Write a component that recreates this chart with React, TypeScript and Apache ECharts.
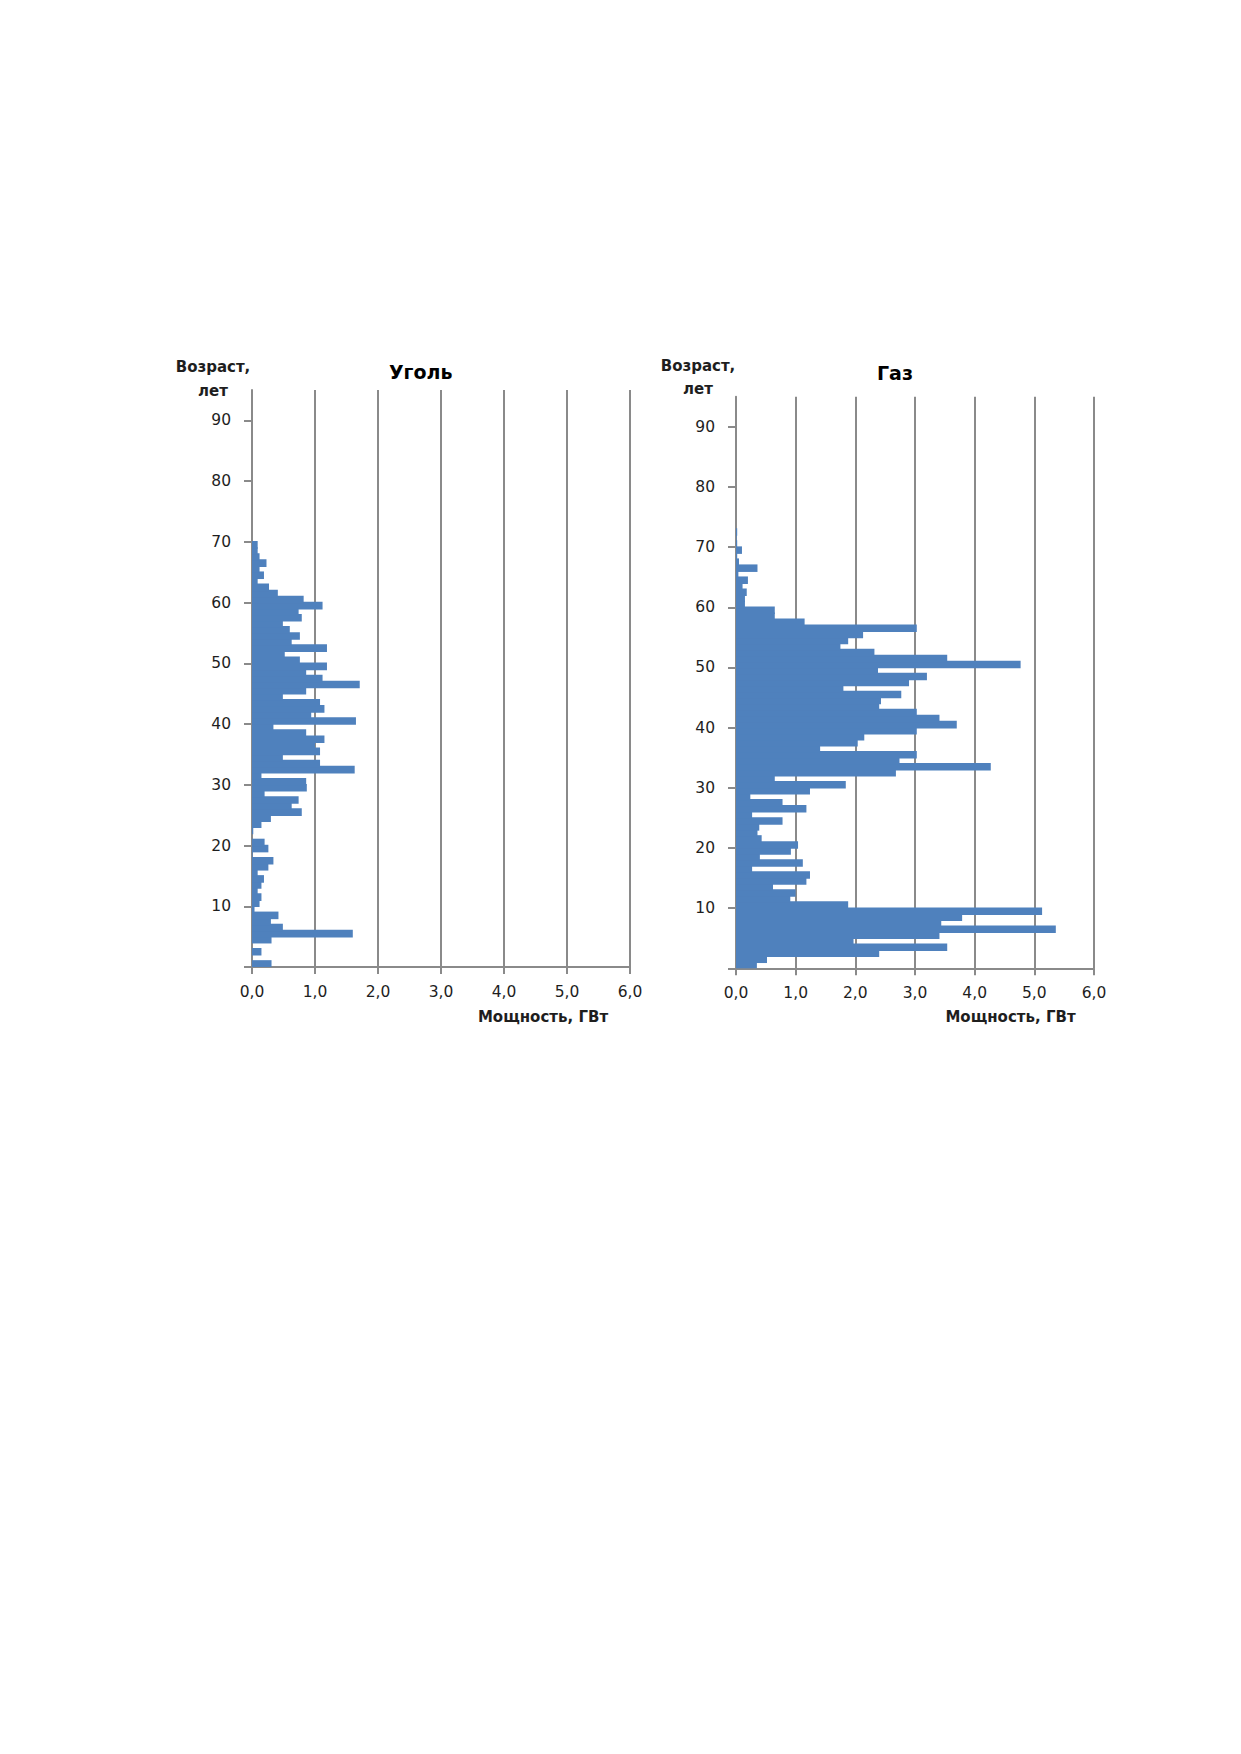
import React, { useEffect, useRef } from "react";
import * as echarts from "echarts";

// Age bands (years), one category per year: band k spans ages k..k+1
const ageCategories: string[] = Array.from({ length: 95 }, (_, i) => String(i));

// Coal capacity by age band (GW), ages 0..69
const coalValues: number[] = [
  0.31, 0, 0.15, 0, 0.31, 1.6, 0.49, 0.3, 0.42, 0.04,
  0.12, 0.15, 0.09, 0.15, 0.19, 0.09, 0.26, 0.34, 0.01, 0.26,
  0.2, 0, 0.02, 0.15, 0.3, 0.79, 0.63, 0.74, 0.2, 0.87,
  0.86, 0.15, 1.63, 1.08, 0.49, 1.08, 1.0, 1.15, 0.86, 0.34,
  1.65, 0.94, 1.15, 1.08, 0.49, 0.86, 1.71, 1.12, 0.86, 1.19,
  0.76, 0.52, 1.19, 0.63, 0.76, 0.6, 0.49, 0.79, 0.74, 1.12,
  0.82, 0.41, 0.27, 0.09, 0.19, 0.12, 0.23, 0.12, 0.09, 0.09,
];

// Gas capacity by age band (GW), ages 0..72
const gasValues: number[] = [
  0.35, 0.52, 2.4, 3.54, 1.97, 3.41, 5.36, 3.44, 3.79, 5.13,
  1.88, 0.91, 1.0, 0.62, 1.18, 1.24, 0.27, 1.12, 0.4, 0.92,
  1.04, 0.43, 0.36, 0.39, 0.78, 0.27, 1.18, 0.78, 0.24, 1.24,
  1.84, 0.65, 2.68, 4.27, 2.74, 3.03, 1.41, 2.04, 2.15, 3.03,
  3.7, 3.41, 3.03, 2.4, 2.43, 2.77, 1.8, 2.9, 3.2, 2.38,
  4.77, 3.54, 2.32, 1.75, 1.88, 2.13, 3.03, 1.15, 0.65, 0.65,
  0.15, 0.15, 0.18, 0.11, 0.2, 0.04, 0.36, 0.05, 0.02, 0.1,
  0.02, 0.01, 0.02,
];

const ageTickValues: number[] = [0, 10, 20, 30, 40, 50, 60, 70, 80, 90];
const ageLabelValues: number[] = [10, 20, 30, 40, 50, 60, 70, 80, 90];

const chartTitles: string[] = ["Уголь", "Газ"];
const xAxisTitle = "Мощность, ГВт";
const yAxisTitleLines: string[] = ["Возраст,", "лет"];

const FONT = "'DejaVu Sans', Verdana, sans-serif";
const GRAY = "#8a8a8a";
const BAR = "#4f81bd";
const TXT = "#1e1e1e";

const grids = [
  { left: 252, top: 390, width: 378, height: 577 },
  { left: 736, top: 396.7, width: 358, height: 571.6 },
];

export default function App() {
  const ref = useRef<HTMLDivElement>(null);

  useEffect(() => {
    if (!ref.current) return;
    const chart = echarts.init(ref.current, undefined, { renderer: "svg" });

    const xAxes = grids.map((_, i) => ({
      type: "value",
      gridIndex: i,
      min: 0,
      max: 6,
      interval: 1,
      axisLine: { show: true, lineStyle: { color: GRAY, width: 2 } },
      axisTick: { show: true, length: 7, lineStyle: { color: GRAY, width: 2 } },
      axisLabel: {
        margin: 17,
        fontSize: 15.5,
        fontFamily: FONT,
        color: TXT,
        formatter: (v: number) => v.toFixed(1).replace(".", ","),
      },
      splitLine: { show: true, lineStyle: { color: GRAY, width: 2 } },
    }));

    const yAxes: any[] = [];
    grids.forEach((_, i) => {
      yAxes.push({
        type: "category",
        gridIndex: i,
        data: ageCategories,
        boundaryGap: true,
        axisLine: { show: true, lineStyle: { color: GRAY, width: 2 } },
        axisTick: { show: false },
        axisLabel: { show: false },
        splitLine: { show: false },
      });
      yAxes.push({
        type: "value",
        gridIndex: i,
        position: "left",
        offset: 0,
        min: 0,
        max: 95,
        axisLine: { show: false },
        axisTick: {
          show: true,
          length: 8,
          customValues: ageTickValues,
          lineStyle: { color: GRAY, width: 2 },
        },
        axisLabel: {
          customValues: ageLabelValues,
          margin: 21,
          fontSize: 15.5,
          fontFamily: FONT,
          color: TXT,
          padding: [0, 0, 6, 0],
        },
        splitLine: { show: false },
      });
    });

    const titleX = [420.7, 895];
    const titleY = [371.7, 373.3];
    const axisNameX = [543, 1010.5];
    const yNameX = [213, 698];
    const yNameY = [[366.7, 390.7], [365.7, 389.3]];

    const graphics: any[] = [];
    grids.forEach((_, i) => {
      graphics.push({
        type: "text",
        x: titleX[i],
        y: titleY[i],
        style: {
          text: chartTitles[i],
          fontSize: 19,
          fontWeight: "bold",
          fontFamily: FONT,
          fill: "#000",
          align: "center",
          verticalAlign: "middle",
        },
      });
      graphics.push({
        type: "text",
        x: axisNameX[i],
        y: 1016.7,
        style: {
          text: xAxisTitle,
          fontSize: 15,
          fontWeight: "bold",
          fontFamily: FONT,
          fill: TXT,
          align: "center",
          verticalAlign: "middle",
        },
      });
      yAxisTitleLines.forEach((line, j) => {
        graphics.push({
          type: "text",
          x: yNameX[i],
          y: yNameY[i][j],
          style: {
            text: line,
            fontSize: 15,
            fontWeight: "bold",
            fontFamily: FONT,
            fill: TXT,
            align: "center",
            verticalAlign: "middle",
          },
        });
      });
    });

    const barStyle = { color: BAR };

    chart.setOption({
      animation: false,
      backgroundColor: "#ffffff",
      grid: grids,
      xAxis: xAxes,
      yAxis: yAxes,
      series: [
        {
          type: "bar",
          xAxisIndex: 0,
          yAxisIndex: 0,
          data: coalValues,
          barWidth: "125%",
          itemStyle: barStyle,
        },
        {
          type: "bar",
          xAxisIndex: 1,
          yAxisIndex: 2,
          data: gasValues,
          barWidth: "125%",
          itemStyle: barStyle,
        },
      ],
      graphic: graphics,
    });

    return () => chart.dispose();
  }, []);

  return (
    <div
      ref={ref}
      style={{ position: "absolute", left: 0, top: 0, width: 1241, height: 1754, background: "#fff" }}
    />
  );
}
